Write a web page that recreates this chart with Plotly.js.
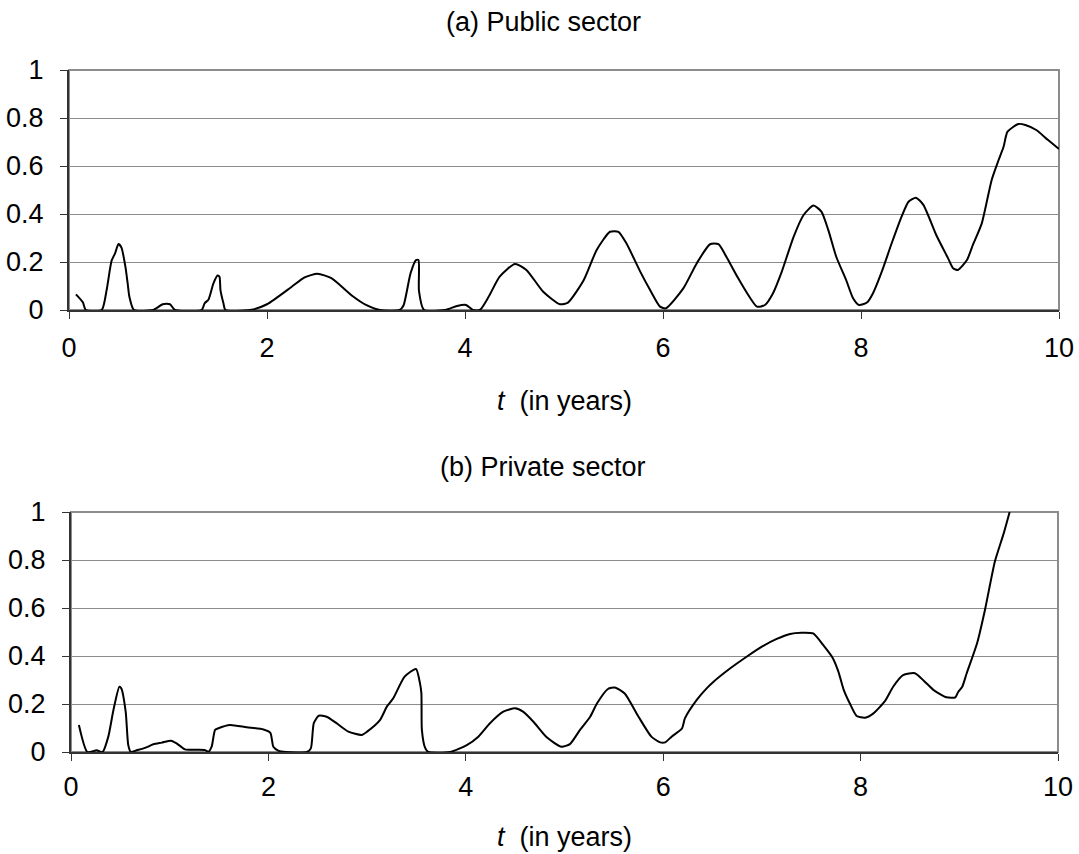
<!DOCTYPE html>
<html>
<head>
<meta charset="utf-8">
<script src="https://cdn.plot.ly/plotly-3.0.1.min.js"></script>
<style>html,body{margin:0;padding:0;background:#fff;}#chart{width:1079px;height:854px;}</style>
</head>
<body>
<div id="chart"></div>
<script>
// (a) Public sector
const publicT = [0.07,0.14,0.17,0.33,0.38,0.43,0.465,0.50,0.53,0.57,0.593,0.61,0.656,0.85,0.946,1.02,1.07,1.34,1.37,1.41,1.458,1.50,1.52,1.53,1.56,1.58,1.83,2.0,2.25,2.38,2.51,2.65,2.87,3.0,3.14,3.34,3.38,3.45,3.505,3.53,3.535,3.586,3.80,3.92,4.01,4.08,4.15,4.24,4.35,4.505,4.62,4.79,4.96,5.04,5.20,5.33,5.465,5.55,5.63,5.77,5.87,5.97,6.03,6.205,6.34,6.475,6.56,6.64,6.76,6.95,7.03,7.11,7.2,7.32,7.42,7.52,7.60,7.67,7.75,7.85,7.92,7.98,8.06,8.12,8.21,8.31,8.41,8.48,8.555,8.63,8.76,8.88,8.93,8.98,9.07,9.13,9.22,9.32,9.39,9.44,9.48,9.59,9.66,9.77,9.89,10.0];
const publicV = [0.065,0.032,0,0,0.083,0.205,0.236,0.275,0.26,0.18,0.11,0.055,0,0,0.024,0.024,0,0,0.028,0.044,0.11,0.144,0.139,0.083,0.028,0,0,0.024,0.097,0.136,0.151,0.133,0.056,0.021,0,0,0.02,0.153,0.208,0.208,0.08,0,0,0.017,0.021,0,0,0.056,0.139,0.192,0.167,0.076,0.024,0.031,0.125,0.25,0.326,0.326,0.278,0.16,0.083,0.014,0.007,0.09,0.194,0.274,0.274,0.222,0.132,0.014,0.021,0.069,0.16,0.306,0.396,0.435,0.41,0.333,0.222,0.125,0.049,0.021,0.031,0.069,0.16,0.278,0.389,0.451,0.468,0.438,0.3125,0.215,0.174,0.167,0.208,0.271,0.361,0.542,0.625,0.68,0.743,0.775,0.771,0.75,0.708,0.671];

// (b) Private sector
const privateT = [0.08,0.166,0.26,0.32,0.378,0.43,0.49,0.51,0.554,0.58,0.605,0.665,0.75,0.834,0.92,1.013,1.07,1.155,1.36,1.39,1.425,1.46,1.50,1.61,1.78,1.95,2.02,2.05,2.10,2.18,2.39,2.43,2.46,2.51,2.59,2.69,2.81,2.945,3.0,3.13,3.20,3.265,3.38,3.495,3.536,3.55,3.555,3.587,3.62,3.84,4.01,4.127,4.245,4.38,4.50,4.58,4.685,4.82,4.97,5.055,5.157,5.26,5.33,5.44,5.51,5.61,5.75,5.88,5.97,6.02,6.085,6.19,6.22,6.34,6.44,6.51,6.68,6.845,7.0,7.15,7.285,7.40,7.52,7.62,7.72,7.775,7.83,7.89,7.96,8.045,8.13,8.25,8.33,8.43,8.55,8.65,8.74,8.87,8.96,8.99,9.03,9.075,9.18,9.26,9.36,9.45,9.51];
const privateV = [0.1125,0,0.007,0,0.064,0.175,0.272,0.265,0.168,0.029,0,0.007,0.017,0.032,0.039,0.047,0.036,0.011,0.008,0,0.022,0.092,0.10,0.1125,0.103,0.094,0.08,0.022,0.006,0,0,0.015,0.12,0.151,0.147,0.12,0.085,0.071,0.085,0.133,0.189,0.224,0.314,0.346,0.286,0.244,0.092,0.018,0,0,0.029,0.064,0.12,0.168,0.182,0.168,0.126,0.061,0.022,0.033,0.092,0.147,0.203,0.2625,0.269,0.244,0.147,0.064,0.04,0.04,0.064,0.098,0.14,0.217,0.265,0.293,0.349,0.397,0.439,0.471,0.492,0.497,0.494,0.446,0.39,0.335,0.258,0.203,0.15,0.143,0.161,0.214,0.272,0.32,0.328,0.293,0.258,0.228,0.228,0.251,0.272,0.328,0.453,0.592,0.793,0.911,1.0];

const xTickVals = [0,2,4,6,8,10];
const yTickVals = [0,0.2,0.4,0.6,0.8,1];
const titleA = "(a) Public sector";
const titleB = "(b) Private sector";
const xTitle = "<i>t</i>  (in years)";

const W = 1079, H = 854;
const FONT = {family: "Liberation Sans, Arial, sans-serif", size: 27, color: "#000"};
const AXIS = "#333333", GRID = "#8c8c8c";

const lineStyle = {color: "#000", width: 2, shape: "spline", smoothing: 0.6};
const traces = [
  {x: publicT, y: publicV, xaxis: "x", yaxis: "y", mode: "lines", line: lineStyle, hoverinfo: "skip"},
  {x: privateT, y: privateV, xaxis: "x2", yaxis: "y2", mode: "lines", line: lineStyle, hoverinfo: "skip"}
];

function xa(domain, anchor, standoff) {
  return {domain: domain, anchor: anchor, range: [0, 10], tickvals: xTickVals, ticktext: xTickVals.map(String),
    showgrid: false, zeroline: false, showline: true, linecolor: AXIS, linewidth: 2,
    ticks: "outside", ticklen: 7, tickcolor: AXIS, tickwidth: 1, ticklabelstandoff: standoff, tickfont: FONT, fixedrange: true};
}
function ya(domain, anchor) {
  return {domain: domain, anchor: anchor, range: [0, 1], tickvals: yTickVals, ticktext: yTickVals.map(String),
    showgrid: true, gridcolor: GRID, gridwidth: 1, zeroline: false, showline: true, linecolor: AXIS, linewidth: 2,
    ticks: "outside", ticklen: 7, tickcolor: AXIS, tickwidth: 1, ticklabelstandoff: 11, tickfont: FONT, fixedrange: true};
}

const yA = [1 - 310 / H, 1 - 70 / H];
const yB = [1 - 752 / H, 1 - 512 / H];

const layout = {
  width: W, height: H, margin: {l: 0, r: 0, t: 0, b: 0},
  paper_bgcolor: "#fff", plot_bgcolor: "#fff", showlegend: false, font: FONT,
  xaxis: xa([69 / W, 1059 / W], "y", 6),
  yaxis: ya(yA, "x"),
  xaxis2: xa([71 / W, 1058 / W], "y2", 3),
  yaxis2: ya(yB, "x2"),
  shapes: [
    {type: "rect", xref: "x domain", yref: "y domain", x0: 0, x1: 1, y0: 0, y1: 1, line: {color: GRID, width: 2}, layer: "below"},
    {type: "rect", xref: "x2 domain", yref: "y2 domain", x0: 0, x1: 1, y0: 0, y1: 1, line: {color: GRID, width: 2}, layer: "below"}
  ],
  annotations: [
    {text: titleA, xref: "paper", yref: "paper", x: 543 / W, y: 1 - 22 / H, xanchor: "center", yanchor: "middle", showarrow: false, font: FONT},
    {text: xTitle, xref: "paper", yref: "paper", x: 564 / W, y: 1 - 401 / H, xanchor: "center", yanchor: "middle", showarrow: false, font: FONT},
    {text: titleB, xref: "paper", yref: "paper", x: 543 / W, y: 1 - 467 / H, xanchor: "center", yanchor: "middle", showarrow: false, font: FONT},
    {text: xTitle, xref: "paper", yref: "paper", x: 564 / W, y: 0, xanchor: "center", yanchor: "bottom", showarrow: false, font: FONT}
  ]
};

Plotly.newPlot("chart", traces, layout, {staticPlot: true, displayModeBar: false});
</script>
</body>
</html>
